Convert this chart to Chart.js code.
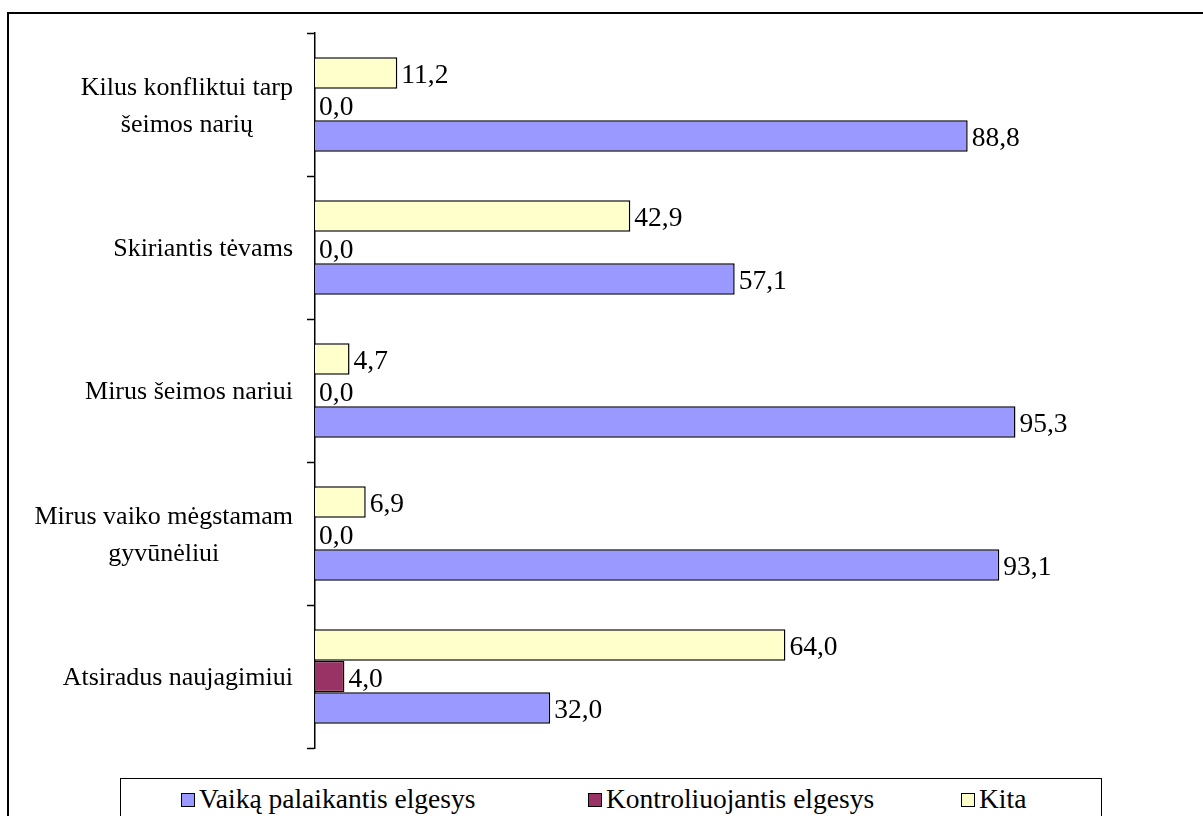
<!DOCTYPE html>
<html>
<head>
<meta charset="utf-8">
<script src="https://cdn.jsdelivr.net/npm/chart.js@4"></script>
<style>
	body { margin: 0; background: #fff; overflow: hidden; }
	#wrap { position: relative; width: 1203px; height: 816px; overflow: hidden; }
	#frame { position: absolute; left: 7px; top: 12px; width: 1300px; height: 900px; border: 2px solid #000; }
	#graph { position: absolute; left: 0; top: 0; }
	#legend { position: absolute; left: 120px; top: 778px; width: 980px; height: 80px; border: 1px solid #000; background: #fff;
		font-family: "Liberation Serif", "Times New Roman", serif; font-size: 27.5px; }
	.item { position: absolute; top: 4px; white-space: nowrap; }
	.box { display: inline-block; width: 12px; height: 12px; border: 1px solid #000; margin-right: 4px; vertical-align: 1px; }
</style>
</head>
<body>
<div id="wrap">
	<div id="frame"></div>
	<canvas id="graph" width="1203" height="816"></canvas>
	<div id="legend"></div>
</div>
<script>
var categories = [
	["Kilus konfliktui tarp", "šeimos narių"],
	["Skiriantis tėvams"],
	["Mirus šeimos nariui"],
	["Mirus vaiko mėgstamam", "gyvūnėliui"],
	["Atsiradus naujagimiui"]
];
var palaikantis = [88.8, 57.1, 95.3, 93.1, 32.0];
var kontroliuojantis = [0.0, 0.0, 0.0, 0.0, 4.0];
var kita = [11.2, 42.9, 4.7, 6.9, 64.0];

var seriesNames = ["Vaiką palaikantis elgesys", "Kontroliuojantis elgesys", "Kita"];
var seriesColors = ["#9999FF", "#993366", "#FFFFCC"];

var FAMILY = '"Liberation Serif", "Times New Roman", serif';

// value labels at the end of each bar, with a decimal comma
var valueLabels = {
	id: "valueLabels",
	afterDatasetsDraw: function(chart) {
		var ctx = chart.ctx;
		ctx.save();
		ctx.font = "27.5px " + FAMILY;
		ctx.fillStyle = "#000";
		ctx.textAlign = "left";
		ctx.textBaseline = "middle";
		chart.data.datasets.forEach(function(ds, di) {
			chart.getDatasetMeta(di).data.forEach(function(bar, i) {
				ctx.fillText(ds.data[i].toFixed(1).replace(".", ","), bar.x + 4, bar.y + 3);
			});
		});
		ctx.restore();
	}
};

// category labels, each one centred on itself and right edge next to the axis
var catLabels = {
	id: "catLabels",
	afterDraw: function(chart) {
		var ctx = chart.ctx;
		var y = chart.scales.y;
		ctx.save();
		ctx.font = "26px " + FAMILY;
		ctx.fillStyle = "#000";
		ctx.textAlign = "center";
		ctx.textBaseline = "middle";
		categories.forEach(function(lines, i) {
			var w = 0;
			lines.forEach(function(l) { w = Math.max(w, ctx.measureText(l).width); });
			var cx = 293 - w / 2;
			var cy = y.getPixelForValue(i) + 2;
			var lh = 37;
			lines.forEach(function(l, k) {
				ctx.fillText(l, cx, cy + (k - (lines.length - 1) / 2) * lh);
			});
		});
		ctx.restore();
	}
};

var ctx = document.getElementById("graph");
var graph = new Chart(ctx, {
	type: "bar",
	data: {
		labels: categories.map(function(c) { return c.join(" "); }),
		datasets: [{
			label: seriesNames[2],
			data: kita,
			backgroundColor: seriesColors[2],
		}, {
			label: seriesNames[1],
			data: kontroliuojantis,
			backgroundColor: seriesColors[1],
		}, {
			label: seriesNames[0],
			data: palaikantis,
			backgroundColor: seriesColors[0],
		}]
	},
	options: {
		indexAxis: "y",
		responsive: false,
		animation: false,
		datasets: {
			bar: {
				borderColor: "#000",
				borderWidth: 1.5,
				categoryPercentage: 0.66,
				barPercentage: 1.0,
			}
		},
		layout: { padding: { top: 33, bottom: 68, right: 153, left: 0 } },
		plugins: {
			legend: { display: false },
			tooltip: { enabled: false },
		},
		scales: {
			x: { display: false, min: 0, max: 100 },
			y: {
				ticks: { display: false },
				grid: { drawOnChartArea: false, drawTicks: true, tickLength: 8, tickColor: "#000", tickWidth: 1.5 },
				border: { display: true, color: "#000", width: 1.5 },
				afterFit: function(scale) { scale.width = 315; },
			}
		}
	},
	plugins: [valueLabels, catLabels],
});

// legend in its own box under the plot
var legendPos = [180, 587, 960];
var lg = document.getElementById("legend");
seriesNames.forEach(function(name, i) {
	var it = document.createElement("span");
	it.className = "item";
	it.style.left = (legendPos[i] - 120) + "px";
	it.innerHTML = '<span class="box" style="background:' + seriesColors[i] + '"></span>' + name;
	lg.appendChild(it);
});
</script>
</body>
</html>
